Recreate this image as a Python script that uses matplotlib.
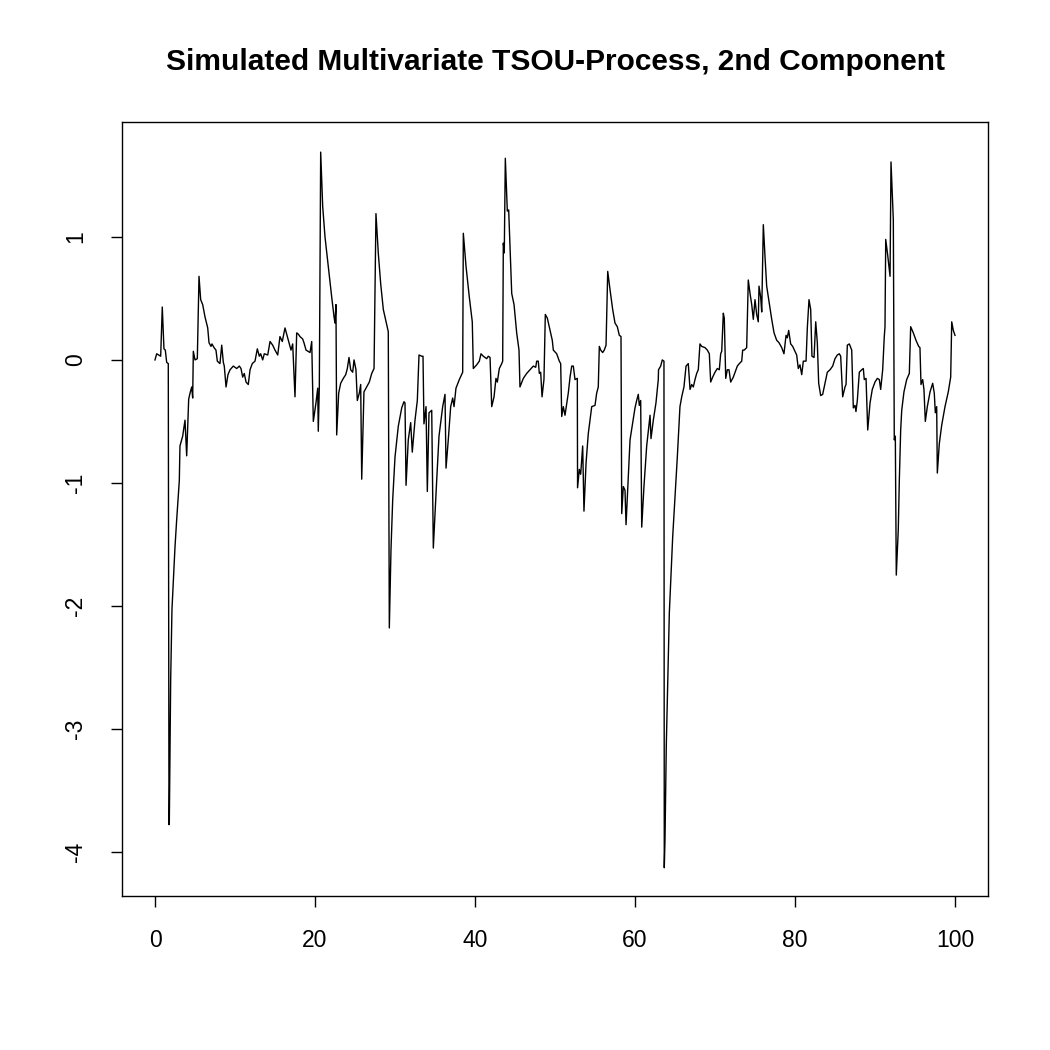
import matplotlib
matplotlib.use("Agg")
import matplotlib.pyplot as plt

title = "Simulated Multivariate TSOU-Process, 2nd Component"
x_ticks = [0, 20, 40, 60, 80, 100]
y_ticks = [-4, -3, -2, -1, 0, 1]

t = [0, 0.21, 0.71, 0.91, 1.12, 1.29, 1.46, 1.66, 1.75, 1.79, 1.96, 2.12, 2.50, 2.71, 3.04, 3.12,
     3.46, 3.75, 3.96, 4.21, 4.38, 4.59, 4.71, 4.79, 5.0, 5.29, 5.5, 5.71, 5.96, 6.25, 6.59, 6.75,
     7.0, 7.12, 7.38, 7.62, 7.79, 8.12, 8.34, 8.54, 8.66, 8.88, 9.12, 9.38, 9.79, 10.21, 10.54,
     10.75, 10.96, 11.16, 11.38, 11.66, 11.88, 12.16, 12.5, 12.79, 13.04, 13.21, 13.46, 13.66,
     14.09, 14.38, 14.71, 15.0, 15.34, 15.62, 15.91, 16.25, 16.54, 16.79, 17.0, 17.21, 17.5,
     17.71, 17.91, 18.12, 18.46, 18.62, 18.88, 19.38, 19.59, 19.79, 20.12, 20.34, 20.41, 20.54,
     20.71, 20.96, 21.25, 21.66, 22.09, 22.38, 22.5, 22.62, 22.71, 22.96, 23.21, 23.54, 23.84,
     24.04, 24.25, 24.46, 24.71, 24.88, 25.12, 25.29, 25.54, 25.71, 25.84, 26.12, 26.46, 26.79,
     27.09, 27.38, 27.62, 27.91, 28.21, 28.54, 28.88, 29.16, 29.29, 29.5, 29.71, 30.0, 30.41,
     30.84, 31.12, 31.25, 31.38, 31.66, 31.96, 32.16, 32.5, 32.79, 33.0, 33.34, 33.5, 33.62,
     33.88, 34.04, 34.25, 34.59, 34.79, 35.21, 35.5, 35.96, 36.25, 36.38, 36.66, 36.96, 37.21,
     37.38, 37.62, 38.04, 38.46, 38.54, 38.88, 39.29, 39.66, 39.79, 40.21, 40.54, 40.75, 41.04,
     41.46, 41.66, 41.88, 42.09, 42.38, 42.62, 42.79, 43.04, 43.34, 43.46, 43.54, 43.66, 43.79,
     44.04, 44.21, 44.59, 44.88, 45.21, 45.5, 45.62, 46.04, 46.46, 46.88, 47.29, 47.59, 47.71,
     47.91, 48.04, 48.21, 48.38, 48.62, 48.79, 49.04, 49.38, 49.66, 49.79, 50.21, 50.54, 50.71,
     50.84, 51.04, 51.25, 51.66, 51.88, 52.09, 52.29, 52.5, 52.79, 52.82, 53.04, 53.21, 53.46,
     53.62, 53.88, 54.16, 54.59, 55.0, 55.21, 55.41, 55.54, 55.71, 55.96, 56.16, 56.38, 56.59,
     56.88, 57.21, 57.5, 57.79, 58.04, 58.25, 58.34, 58.54, 58.75, 58.88, 59.38, 59.71, 60.0,
     60.21, 60.41, 60.54, 60.71, 60.84, 61.12, 61.46, 61.88, 62.0, 62.29, 62.62, 62.91, 62.94,
     63.21, 63.41, 63.62, 63.66, 63.75, 63.91, 64.29, 64.71, 65.12, 65.29, 65.62, 65.84, 66.12,
     66.38, 66.66, 66.88, 67.09, 67.29, 67.5, 67.71, 67.91, 68.12, 68.34, 68.75, 69.04, 69.29,
     69.46, 69.71, 70.0, 70.29, 70.54, 70.71, 70.84, 71.04, 71.16, 71.34, 71.54, 71.75, 71.96,
     72.29, 72.62, 72.79, 73.04, 73.34, 73.46, 73.66, 73.96, 74.16, 74.38, 74.59, 74.79, 75.0,
     75.21, 75.41, 75.5, 75.71, 75.84, 76.04, 76.25, 76.46, 76.79, 77.09, 77.38, 77.71, 78.0,
     78.34, 78.62, 78.88, 79.04, 79.21, 79.46, 79.71, 80.0, 80.21, 80.41, 80.62, 80.84, 81.04,
     81.38, 81.54, 81.75, 81.96, 82.12, 82.38, 82.59, 82.79, 82.96, 83.21, 83.46, 83.75, 84.04,
     84.38, 84.71, 85.0, 85.29, 85.54, 85.71, 85.96, 86.25, 86.38, 86.54, 86.79, 87.09, 87.29,
     87.5, 87.62, 87.79, 88.04, 88.34, 88.54, 88.66, 88.88, 89.09, 89.38, 89.66, 90.0, 90.29,
     90.54, 90.71, 90.96, 91.16, 91.25, 91.34, 91.59, 91.88, 92.0, 92.29, 92.41, 92.54, 92.66,
     92.91, 93.04, 93.21, 93.34, 93.62, 93.96, 94.29, 94.46, 94.79, 95.12, 95.46, 95.62, 95.75,
     95.96, 96.12, 96.29, 96.54, 96.88, 97.21, 97.41, 97.54, 97.71, 97.79, 98.04, 98.34, 98.75,
     99.16, 99.46, 99.59, 99.79, 100.0]

value = [0, 0.05, 0.03, 0.43, 0.09, 0.08, -0.02, -0.03, -3.78, -3.76, -2.60, -2.03, -1.52, -1.30,
         -0.98, -0.70, -0.62, -0.49, -0.78, -0.32, -0.27, -0.22, -0.31, 0.07, 0.0, 0.01, 0.68, 0.49,
         0.45, 0.35, 0.26, 0.14, 0.11, 0.13, 0.10, 0.08, -0.01, -0.03, 0.12, -0.02, -0.05, -0.22,
         -0.12, -0.08, -0.05, -0.07, -0.05, -0.07, -0.14, -0.11, -0.18, -0.20, -0.08, -0.03, -0.01,
         0.09, 0.03, 0.05, 0.0, 0.05, 0.04, 0.15, 0.12, 0.08, 0.04, 0.19, 0.15, 0.26, 0.19, 0.13,
         0.08, 0.13, -0.30, 0.22, 0.21, 0.19, 0.17, 0.14, 0.08, 0.06, 0.15, -0.50, -0.35, -0.23,
         -0.58, -0.22, 1.69, 1.25, 1.0, 0.76, 0.51, 0.35, 0.30, 0.45, -0.61, -0.27, -0.19, -0.15,
         -0.12, -0.07, 0.02, -0.08, -0.10, 0.0, -0.08, -0.33, -0.27, -0.20, -0.97, -0.26, -0.22,
         -0.18, -0.11, -0.07, 1.19, 0.87, 0.62, 0.41, 0.31, 0.23, -2.18, -1.54, -1.14, -0.79, -0.54,
         -0.39, -0.34, -0.35, -1.02, -0.65, -0.51, -0.75, -0.49, -0.33, 0.04, 0.03, 0.03, -0.52,
         -0.38, -1.07, -0.43, -0.41, -1.53, -0.98, -0.62, -0.38, -0.28, -0.88, -0.65, -0.38, -0.31,
         -0.38, -0.23, -0.16, -0.10, 1.03, 0.76, 0.51, 0.31, -0.07, -0.04, -0.01, 0.05, 0.03, 0.01,
         0.03, 0.02, -0.38, -0.30, -0.15, -0.18, -0.07, -0.03, -0.01, 0.95, 0.87, 1.64, 1.21, 1.22,
         0.54, 0.45, 0.22, 0.08, -0.22, -0.15, -0.11, -0.08, -0.05, -0.06, -0.01, -0.01, -0.11,
         -0.10, -0.30, -0.16, 0.37, 0.34, 0.24, 0.16, 0.08, 0.05, -0.01, -0.03, -0.46, -0.38, -0.45,
         -0.27, -0.14, -0.05, -0.05, -0.16, -0.15, -1.04, -0.89, -0.93, -0.70, -1.23, -0.84, -0.60,
         -0.38, -0.37, -0.27, -0.22, 0.11, 0.08, 0.06, 0.08, 0.12, 0.72, 0.57, 0.41, 0.30, 0.27,
         0.20, 0.19, -1.25, -1.03, -1.06, -1.34, -0.65, -0.51, -0.39, -0.33, -0.28, -0.37, -0.33,
         -1.36, -1.03, -0.70, -0.45, -0.64, -0.49, -0.35, -0.16, -0.08, -0.05, 0.0, -0.01, -4.13,
         -3.90, -3.14, -2.06, -1.44, -0.98, -0.79, -0.38, -0.30, -0.22, -0.05, -0.03, -0.24, -0.20,
         -0.22, -0.16, -0.11, -0.08, 0.13, 0.11, 0.10, 0.08, 0.05, -0.18, -0.14, -0.10, -0.07,
         -0.08, 0.05, 0.07, 0.38, 0.34, -0.15, -0.08, -0.08, -0.18, -0.14, -0.08, -0.05, -0.03,
         -0.01, 0.08, 0.08, 0.10, 0.65, 0.54, 0.45, 0.33, 0.49, 0.37, 0.31, 0.60, 0.51, 0.39, 1.10,
         0.84, 0.60, 0.46, 0.33, 0.22, 0.16, 0.14, 0.10, 0.05, 0.20, 0.18, 0.24, 0.13, 0.11, 0.07,
         0.04, -0.07, -0.04, -0.12, -0.01, -0.01, 0.26, 0.49, 0.41, 0.03, 0.02, 0.31, 0.14, -0.19,
         -0.29, -0.28, -0.19, -0.10, -0.08, -0.05, 0.01, 0.04, 0.05, 0.03, -0.30, -0.22, -0.20,
         0.12, 0.13, 0.08, -0.39, -0.37, -0.42, -0.33, -0.10, -0.08, -0.07, -0.16, -0.15, -0.57,
         -0.35, -0.24, -0.18, -0.15, -0.16, -0.24, -0.08, 0.19, 0.27, 0.98, 0.85, 0.68, 1.61, 1.14,
         -0.65, -0.62, -1.75, -1.38, -0.98, -0.57, -0.41, -0.26, -0.16, -0.11, 0.27, 0.22, 0.16,
         0.11, 0.10, -0.20, -0.16, -0.24, -0.50, -0.38, -0.26, -0.19, -0.27, -0.43, -0.38, -0.92,
         -0.68, -0.53, -0.38, -0.26, -0.14, 0.31, 0.24, 0.20]

plt.rcParams['font.family'] = ['Liberation Sans', 'DejaVu Sans']

fig = plt.figure(figsize=(10.5, 10.5), dpi=100)
ax = fig.add_axes([122 / 1050, 154 / 1050, 866 / 1050, 774 / 1050])
ax.plot(t, value, color='black', linewidth=1.0)

ax.set_xlim(-4.125, 104.125)
ax.set_ylim(-4.36, 1.935)
ax.set_xticks(x_ticks)
ax.set_yticks(y_ticks)
ax.set_xticklabels([str(v) for v in x_ticks], fontsize=16.5)
ax.set_yticklabels([str(v) for v in y_ticks], fontsize=16.5, rotation=90, va='center')
ax.tick_params(axis='x', direction='out', length=8, width=1, pad=16, color='black')
ax.tick_params(axis='y', direction='out', length=8, width=1, pad=17, color='black')
for s in ax.spines.values():
    s.set_linewidth(1.0)
    s.set_color('black')

fig.text(555 / 1050, 1 - 62 / 1050, title, ha='center', va='center',
         fontsize=21.5, fontweight='bold')

fig.savefig('out.png', dpi=100)
